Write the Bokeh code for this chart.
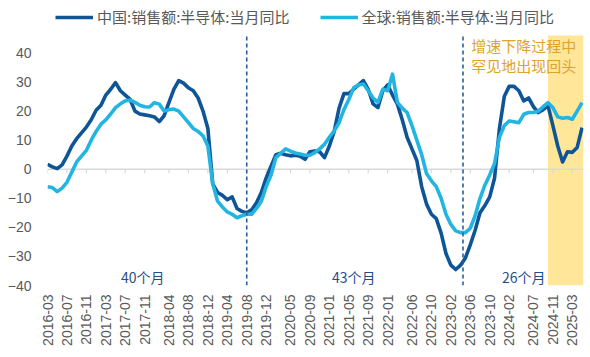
import pandas as pd
from bokeh.plotting import figure
from bokeh.models import (Range1d, Span, BoxAnnotation, Legend, LegendItem,
                          FixedTicker)
from bokeh.core.properties import value
from bokeh.embed import file_html
from bokeh.resources import INLINE

# ---------------- data ----------------
months = [p.strftime("%Y-%m") for p in pd.period_range("2016-03", "2025-05", freq="M")]

china = [1.7, 0.8, 0.2, 1.5, 4.5, 8.0, 10.5, 12.5, 14.5, 17.0,
         20.3, 22.0, 25.5, 27.5, 29.8, 27.0, 25.5, 24.0, 20.0, 19.0,
         18.7, 18.4, 18.0, 16.4, 18.4, 23.0, 27.5, 30.5, 29.6, 28.0,
         27.0, 24.5, 20.0, 14.0, -5.0, -8.0, -9.0, -10.5, -9.5, -13.5,
         -14.5, -15.0, -14.0, -11.5, -8.0, -3.0, 1.0, 5.0, 5.5, 5.0,
         4.6, 4.8, 4.5, 3.4, 6.0, 6.3, 6.0, 4.0, 8.0, 13.0,
         21.0, 26.0, 26.0, 27.5, 29.0, 30.5, 27.5, 22.5, 21.2, 27.0,
         29.0, 25.5, 22.4, 17.0, 11.0, 7.0, 3.0, -6.0, -12.0, -15.5,
         -17.0, -22.0, -29.0, -33.0, -34.5, -33.0, -30.5, -26.0, -21.0, -15.0,
         -12.5, -9.5, -3.0, 14.0, 25.0, 28.5, 28.5, 27.0, 23.5, 24.5,
         21.5, 19.5, 20.5, 21.8, 15.0, 8.0, 2.5, 6.0, 5.8, 7.5,
         14.3]

world = [-6.0, -6.3, -7.7, -6.5, -4.5, -1.0, 2.5, 4.5, 6.5, 10.0,
         13.0, 15.5, 17.0, 19.0, 21.2, 22.5, 23.5, 23.8, 23.0, 22.0,
         21.5, 21.4, 22.9, 22.4, 20.0, 20.5, 20.7, 20.0, 18.0, 16.0,
         14.0, 13.0, 11.5, 8.0, -5.0, -11.0, -13.0, -14.7, -15.5, -16.7,
         -16.0, -15.5, -15.5, -13.5, -11.0, -6.0, -2.0, 4.0, 5.5, 7.0,
         6.2, 5.6, 5.2, 4.8, 4.8, 5.7, 7.0, 8.6, 11.0, 13.2,
         16.0, 20.5, 24.0, 28.0, 29.0, 29.3, 27.0, 24.5, 23.0, 27.5,
         27.0, 32.7, 23.0, 21.0, 19.5, 15.0, 10.0, 5.0, -1.5, -4.0,
         -6.0, -10.0, -15.5, -19.0, -21.2, -21.8, -21.8, -20.3, -16.0, -10.0,
         -5.5, -2.0, 2.0, 11.0, 15.0, 16.6, 16.3, 16.0, 18.9, 19.5,
         19.5, 20.0, 21.5, 22.9, 21.2, 18.0, 17.5, 17.8, 17.2, 20.0,
         22.9]

tick_labels = ["2016-03", "2016-07", "2016-11", "2017-03", "2017-07", "2017-11",
               "2018-04", "2018-08", "2018-12", "2019-04", "2019-08", "2019-12",
               "2020-05", "2020-09", "2021-01", "2021-05", "2021-09", "2022-01",
               "2022-06", "2022-10", "2023-02", "2023-06", "2023-10", "2024-02",
               "2024-07", "2024-11", "2025-03"]
y_ticks = [-40, -30, -20, -10, 0, 10, 20, 30, 40]

cycle_labels = ["40个月", "43个月", "26个月"]
note_lines = ["增速下降过程中", "罕见地出现回头"]

name_cn = "中国:销售额:半导体:当月同比"
name_world = "全球:销售额:半导体:当月同比"

# ---------------- layout constants ----------------
Y_MIN, Y_TOP = -40, 46       # plotting area (data units)
Y_VIEW_TOP = 58.04           # extra room above the plot for the legend
DASH_X = [41, 85.5]          # cycle boundaries (month index)
SHADE_FROM = 103             # highlighted recent period
CYCLE_X = [19.6, 63.0, 98.0]
CYCLE_Y = -37.0
NOTE_X = 87.2
NOTE_Y = [42.4, 35.6]

C_CN = "#0E5597"
C_WD = "#22B5E2"
C_TXT = "#595959"
C_DASH = "#2A5D9E"
C_NOTE = "#DDA427"
C_SHADE = "#FFE699"

x = list(range(len(months)))
tick_pos = [months.index(t) for t in tick_labels]

p = figure(width=590, height=357, output_backend="svg", toolbar_location=None,
           x_range=Range1d(0, 110.3), y_range=Range1d(Y_MIN, Y_VIEW_TOP),
           min_border_left=47, min_border_right=7, min_border_top=0,
           min_border_bottom=72)
p.outline_line_color = None
p.xgrid.visible = False
p.ygrid.visible = False
p.background_fill_color = "white"
p.border_fill_color = "white"

p.add_layout(BoxAnnotation(left=SHADE_FROM, top=Y_TOP, fill_color=C_SHADE,
                           fill_alpha=1.0, line_alpha=0, level="underlay"))
p.add_layout(Span(location=0, dimension="width", line_color="#D9D9D9",
                  line_width=1.5, level="underlay"))
p.segment(x0=tick_pos, y0=[0] * len(tick_pos), x1=tick_pos,
          y1=[-1.4] * len(tick_pos), line_color="#D9D9D9", line_width=1.2)

r_cn = p.line(x, china, line_color=C_CN, line_width=3.6, line_join="round")
r_wd = p.line(x, world, line_color=C_WD, line_width=3.6, line_join="round")

p.segment(x0=DASH_X, y0=[Y_MIN] * len(DASH_X), x1=DASH_X,
          y1=[Y_TOP] * len(DASH_X), line_color=C_DASH, line_width=1.6,
          line_dash="4 3")

p.text(x=CYCLE_X, y=[CYCLE_Y] * 3, text=cycle_labels,
       text_font=value("Noto Sans CJK SC"),
       text_font_size="14px", text_color="#1F4E8C", text_align="center",
       text_baseline="middle")
p.text(x=[NOTE_X] * 2, y=NOTE_Y, text=note_lines,
       text_font=value("Noto Sans CJK SC"), text_font_size="15px",
       text_color=C_NOTE, text_align="left", text_baseline="middle")

# axes
xa = p.xaxis[0]
xa.ticker = FixedTicker(ticks=tick_pos)
xa.major_label_overrides = {pos: lab for pos, lab in zip(tick_pos, tick_labels)}
xa.major_label_orientation = 3.14159265 / 2
xa.axis_line_color = None
xa.major_tick_line_color = None
xa.minor_tick_line_color = None
xa.major_tick_out = 0
xa.major_tick_in = 0
xa.major_label_standoff = 9
xa.major_label_text_font = "Liberation Sans"
xa.major_label_text_font_size = "14px"
xa.major_label_text_color = C_TXT

ya = p.yaxis[0]
ya.ticker = FixedTicker(ticks=y_ticks)
ya.axis_line_color = None
ya.major_tick_line_color = None
ya.minor_tick_line_color = None
ya.major_tick_out = 0
ya.major_tick_in = 0
ya.major_label_standoff = 16
ya.major_label_text_font = "Liberation Sans"
ya.major_label_text_font_size = "14px"
ya.major_label_text_color = C_TXT

legend = Legend(items=[LegendItem(label=name_cn, renderers=[r_cn]),
                       LegendItem(label=name_world, renderers=[r_wd])],
                orientation="horizontal", location=(8, 258),
                margin=0, padding=0, spacing=30, label_standoff=4,
                glyph_width=38, glyph_height=20, label_height=20,
                label_text_font="Noto Sans CJK SC", label_text_font_size="15px",
                label_text_color=C_TXT, border_line_color=None,
                background_fill_alpha=0)
p.add_layout(legend, "center")

open("out.html", "w").write(file_html(p, INLINE))
